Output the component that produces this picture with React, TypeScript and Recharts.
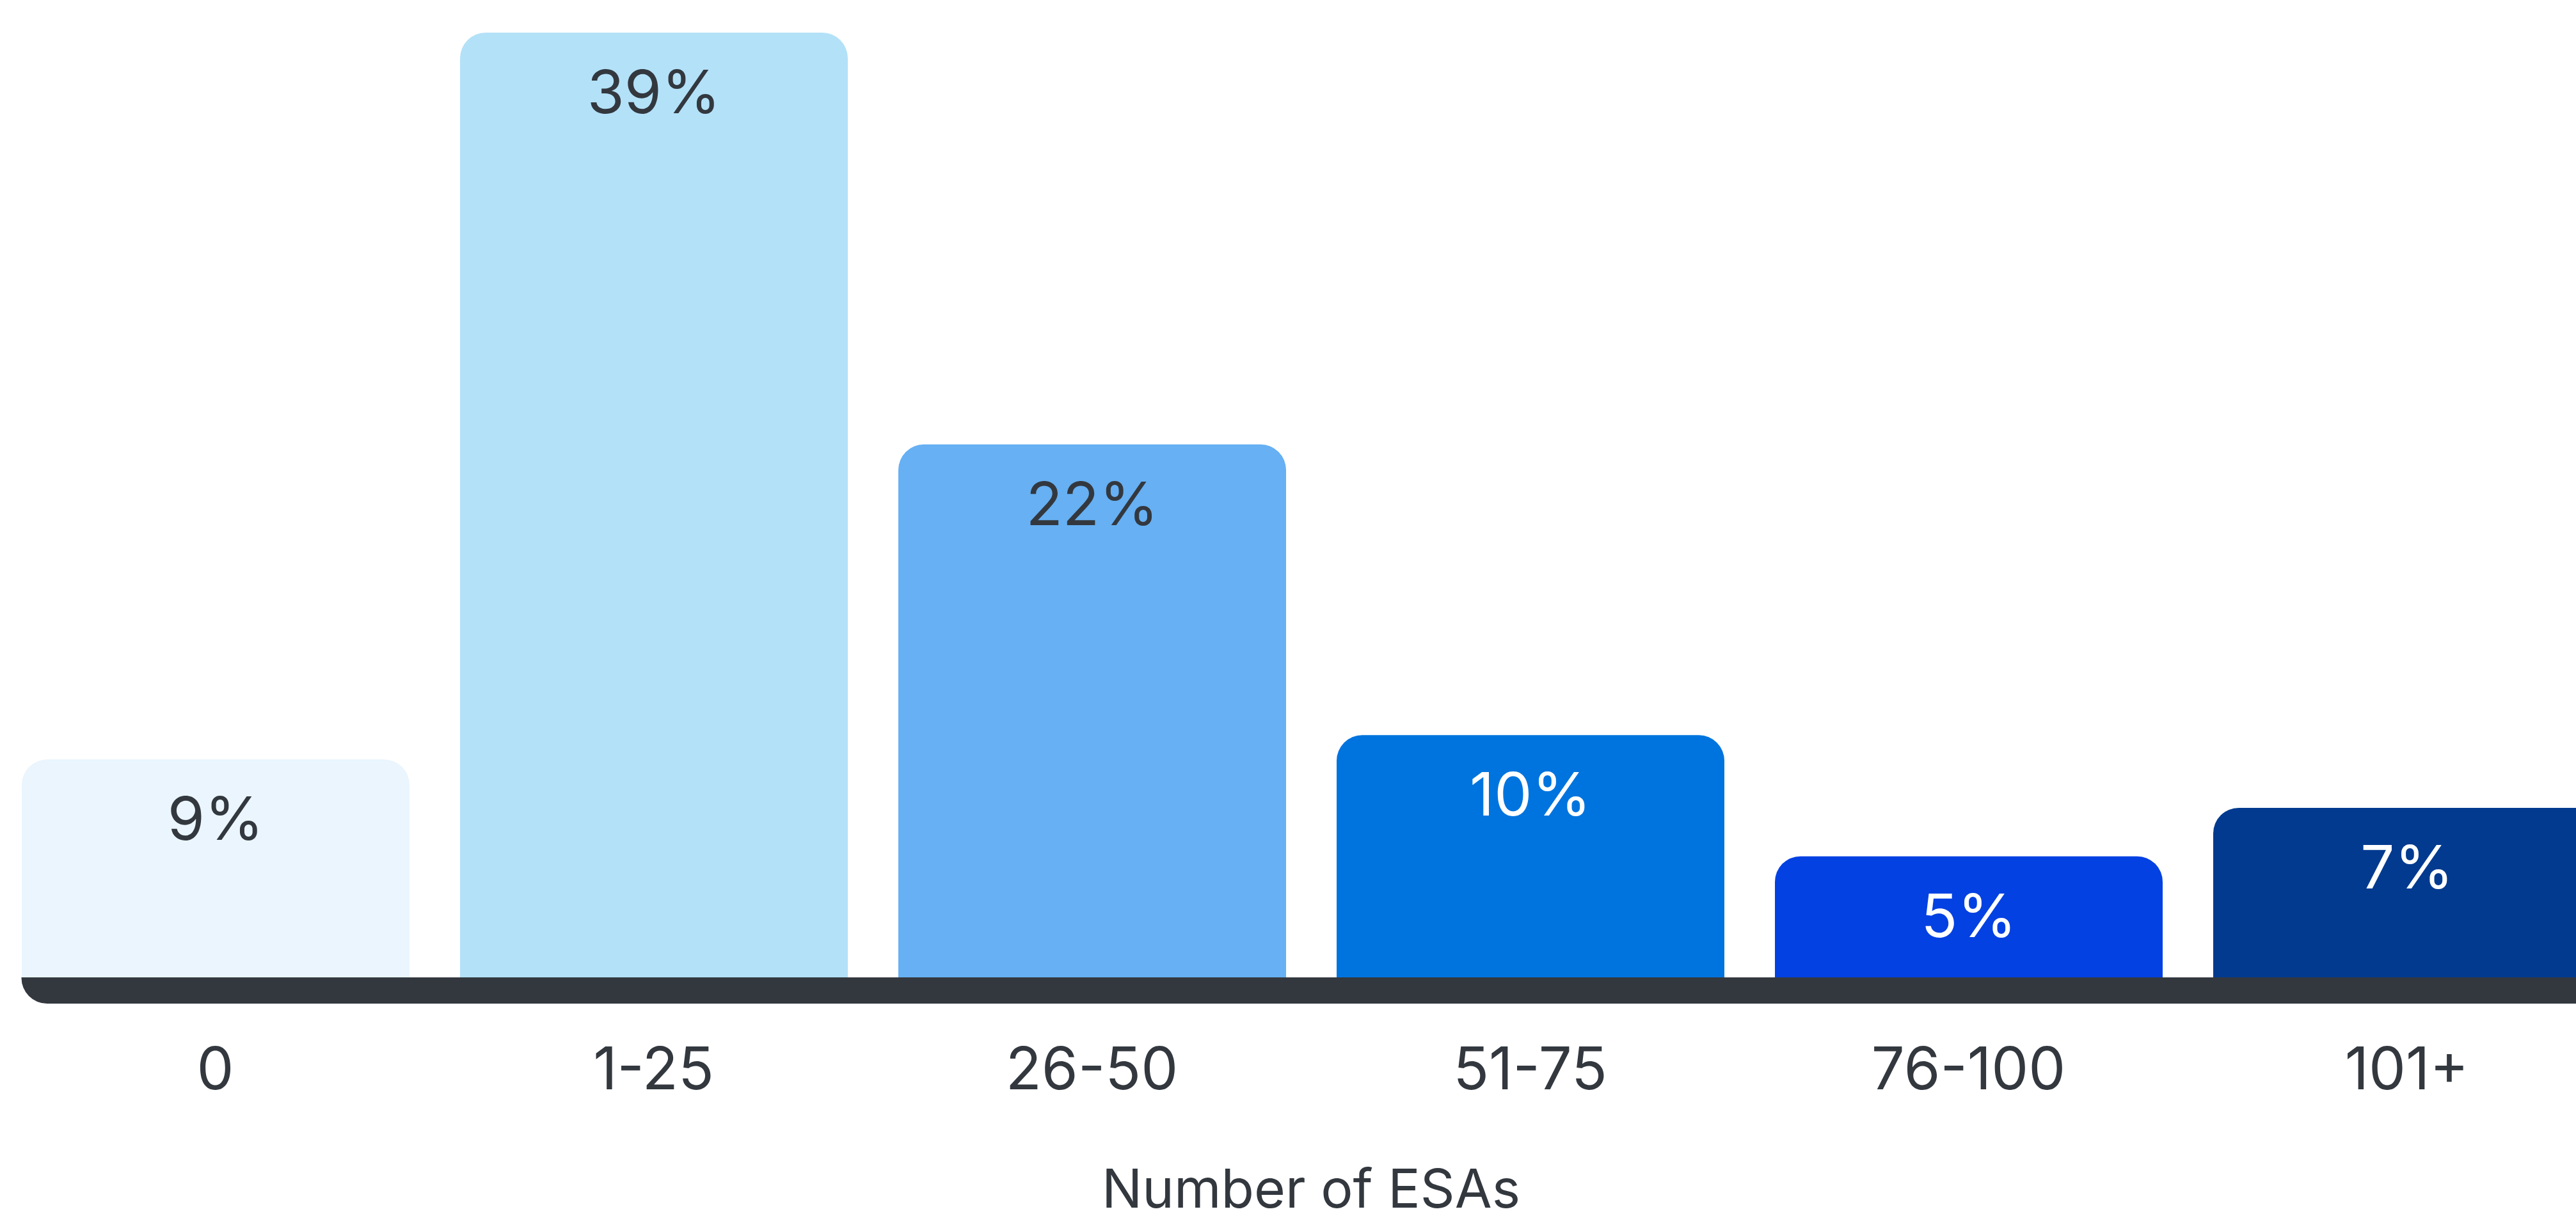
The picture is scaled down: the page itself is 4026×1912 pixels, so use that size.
import React from 'react'
import { BarChart, Bar, XAxis, YAxis, Cell, LabelList, ReferenceArea } from 'recharts'

const categories = ['0', '1-25', '26-50', '51-75', '76-100', '101+']
const shares = [9, 39, 22, 10, 5, 7]
const barColors = ['#EAF5FE', '#B3E1F8', '#66B0F3', '#0074DE', '#0441E2', '#023A8F']
const labelColors = ['#33383F', '#33383F', '#33383F', '#FFFFFF', '#FFFFFF', '#FFFFFF']
const axisTitle = 'Number of ESAs'

const data = categories.map((name, i) => ({ name, share: shares[i] }))

const FONT = 'Inter, "Open Sans", sans-serif'
const INK = '#33383F'
const BAR_SIZE = 606
const BASE_DEPTH = 41
const BASE_RADIUS = 40

const CategoryTick = (props: any) => {
    const { x, y, payload } = props
    return (
        <text x={x} y={y + 175} textAnchor='middle' fill={INK} fontFamily={FONT} fontSize={92}>
            {payload.value}
        </text>
    )
}

const ShareLabel = (props: any) => {
    const { x, y, width, value, index } = props
    const i = typeof index === 'number' ? index : shares.indexOf(value)
    return (
        <text x={x + width / 2} y={y + 126} textAnchor='middle' fill={labelColors[i]} fontFamily={FONT} fontSize={94}>
            {value}%
        </text>
    )
}

// dark strip under the bars, square on top, rounded at the bottom-left
const BaseStrip = (props: any) => {
    const { x, y, width, height } = props
    const band = width / categories.length
    const left = x + (band - BAR_SIZE) / 2
    const right = x + width
    const top = y + height
    const r = BASE_RADIUS
    const d = `M${left},${top} H${right} V${top + BASE_DEPTH} H${left + r} A${r},${r} 0 0 1 ${left},${top + BASE_DEPTH - r} Z`
    return <path d={d} fill={INK} />
}

const App = () => {
    return (
        <div style={{ position: 'absolute', left: 0, top: 0, width: 4026, height: 1912, overflow: 'hidden', background: '#fff' }}>
            <div style={{ position: 'absolute', left: -6.5, top: 0 }}>
                <BarChart width={4110} height={1912} data={data} margin={{ top: 51, right: 0, bottom: 0, left: 0 }}>
                    <YAxis hide domain={[0, 'dataMax']} />
                    <XAxis
                        dataKey='name'
                        height={384}
                        interval={0}
                        axisLine={false}
                        tickLine={false}
                        tickSize={0}
                        tickMargin={0}
                        tick={CategoryTick}
                        label={{ value: axisTitle, position: 'insideBottom', offset: 24, fill: INK, fontFamily: FONT, fontSize: 84 }}
                    />
                    <ReferenceArea
                        x1={categories[0]}
                        x2={categories[categories.length - 1]}
                        ifOverflow='visible'
                        shape={BaseStrip}
                    />
                    <Bar dataKey='share' barSize={BAR_SIZE} radius={[40, 40, 0, 0]} isAnimationActive={false}>
                        {data.map((d, i) => (
                            <Cell key={d.name} fill={barColors[i]} />
                        ))}
                        <LabelList dataKey='share' content={ShareLabel} />
                    </Bar>
                </BarChart>
            </div>
        </div>
    )
}

export default App
